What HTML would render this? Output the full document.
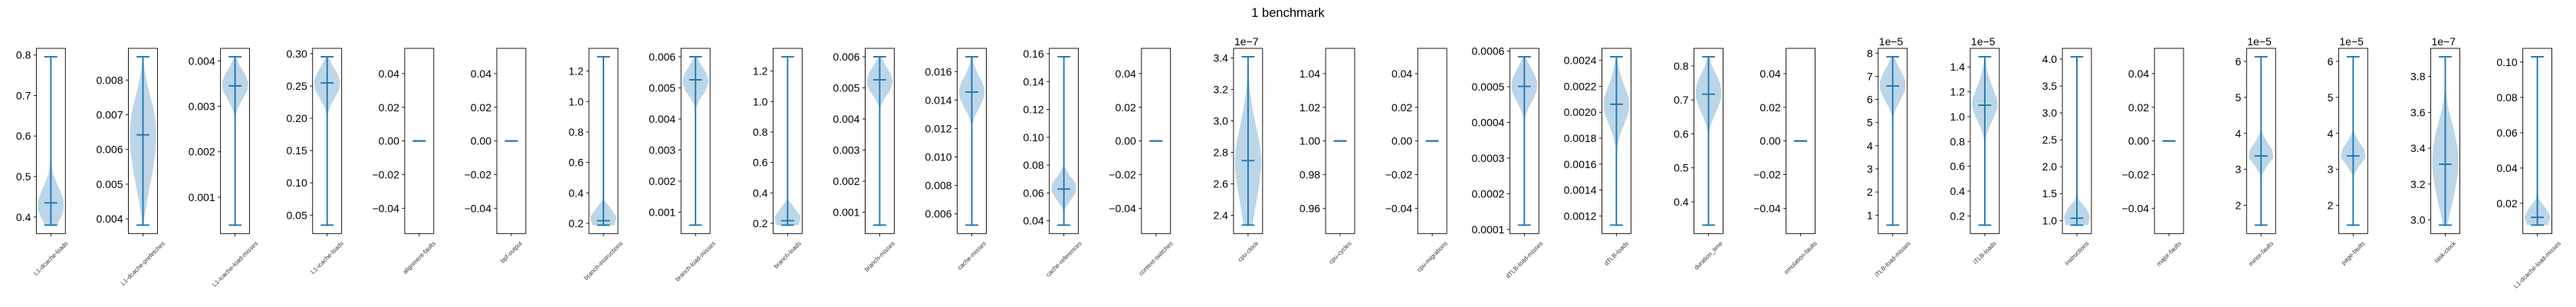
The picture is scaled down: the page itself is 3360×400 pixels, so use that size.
<!DOCTYPE html>
<html><head><meta charset="utf-8"><title>1 benchmark</title>
<style>
html,body{margin:0;padding:0;background:#fff;}
svg{display:block;font-family:"Liberation Sans","DejaVu Sans",sans-serif;}
</style></head>
<body>
<svg id="chart" width="3360" height="400" viewBox="0 0 3360 400" xmlns="http://www.w3.org/2000/svg">
<rect width="3360" height="400" fill="#fff"/>
<text x="1680" y="22" text-anchor="middle" font-size="16.5" fill="#000">1 benchmark</text>
</svg>
<script>
const names=["L1-dcache-loads","L1-dcache-prefetches","L1-icache-load-misses","L1-icache-loads","alignment-faults","bpf-output","branch-instructions","branch-load-misses","branch-loads","branch-misses","cache-misses","cache-references","context-switches","cpu-clock","cpu-cycles","cpu-migrations","dTLB-load-misses","dTLB-loads","duration_time","emulation-faults","iTLB-load-misses","iTLB-loads","instructions","major-faults","minor-faults","page-faults","task-clock","L1-dcache-load-misses"];
const mins=[0.380,0.00382,0.000386,0.0345,0,0,0.188,0.000588,0.188,0.000588,0.00521,0.0369,0,2.338,1,0,0.000112,0.001129,0.3314,0,0.568,0.1257,0.914,0,1.451,1.451,2.971,0.00767];
const maxs=[0.7956,0.00867,0.00409,0.2952,0,0,1.294,0.006,1.294,0.006,0.01704,0.1578,0,3.408,1,0,0.000584,0.002428,0.827,0,7.844,1.482,4.043,0,6.128,6.128,3.910,0.103];
const centers=[0.435,0.00642,0.00345,0.2548,0,0,0.217,0.00526,0.217,0.00526,0.01456,0.0628,0,2.748,1,0,0.000501,0.002062,0.717,0,6.58,1.092,1.043,0,3.374,3.374,3.311,0.0121];
const offsetLabels=["","","","","","","","","","","","","","1e−7","","","","","","","1e−5","1e−5","","","1e−5","1e−5","1e−7",""];
const zeroTicks=["−0.04","−0.02","0.00","0.02","0.04"];
const tickLabels=[
["0.4","0.5","0.6","0.7","0.8"],
["0.004","0.005","0.006","0.007","0.008"],
["0.001","0.002","0.003","0.004"],
["0.05","0.10","0.15","0.20","0.25","0.30"],
zeroTicks,zeroTicks,
["0.2","0.4","0.6","0.8","1.0","1.2"],
["0.001","0.002","0.003","0.004","0.005","0.006"],
["0.2","0.4","0.6","0.8","1.0","1.2"],
["0.001","0.002","0.003","0.004","0.005","0.006"],
["0.006","0.008","0.010","0.012","0.014","0.016"],
["0.04","0.06","0.08","0.10","0.12","0.14","0.16"],
zeroTicks,
["2.4","2.6","2.8","3.0","3.2","3.4"],
["0.96","0.98","1.00","1.02","1.04"],
zeroTicks,
["0.0001","0.0002","0.0003","0.0004","0.0005","0.0006"],
["0.0012","0.0014","0.0016","0.0018","0.0020","0.0022","0.0024"],
["0.4","0.5","0.6","0.7","0.8"],
zeroTicks,
["1","2","3","4","5","6","7","8"],
["0.2","0.4","0.6","0.8","1.0","1.2","1.4"],
["1.0","1.5","2.0","2.5","3.0","3.5","4.0"],
zeroTicks,
["2","3","4","5","6"],
["2","3","4","5","6"],
["3.0","3.2","3.4","3.6","3.8"],
["0.02","0.04","0.06","0.08","0.10"]
];
const Z=n=>Array(n).fill(0);
const densities=[
[0.45,0.8,1,0.95,0.75,0.45,0.2,0.07,...Z(13)],
[0.05,0.12,0.22,0.33,0.45,0.57,0.7,0.8,0.9,0.97,1,1,0.97,0.9,0.78,0.62,0.45,0.3,0.17,0.08,0.02],
[...Z(12),0,0.05,0.25,0.6,0.95,1,0.75,0.35,0.05],
[...Z(13),0.03,0.2,0.55,0.9,1,0.8,0.4,0.1],
[],[],
[0.85,1,0.55,0.05,...Z(17)],
[...Z(14),0.05,0.35,0.8,1,0.85,0.45,0.1],
[0.85,1,0.55,0.05,...Z(17)],
[...Z(14),0.05,0.35,0.8,1,0.85,0.45,0.1],
[...Z(12),0.05,0.25,0.6,0.9,1,0.8,0.45,0.2,0.05],
[0,0,0.1,0.55,0.95,0.9,0.4,0.05,...Z(13)],
[],
[0.35,0.45,0.55,0.66,0.77,0.87,0.95,1,1,0.95,0.85,0.72,0.58,0.45,0.33,0.23,0.15,0.09,0.05,0.03,0.01],
[],[],
[...Z(13),0.1,0.35,0.7,0.95,1,0.75,0.4,0.1],
[...Z(9),0.03,0.15,0.35,0.6,0.85,1,0.95,0.75,0.5,0.3,0.15,0.05],
[...Z(11),0.05,0.2,0.45,0.75,0.95,1,0.85,0.55,0.25,0.08],
[],
[...Z(13),0.05,0.3,0.65,0.95,1,0.75,0.4,0.1],
[...Z(10),0.02,0.2,0.45,0.75,0.97,0.95,0.7,0.45,0.25,0.1,0.02],
[0.85,1,0.7,0.15,...Z(17)],
[],
[...Z(6),0.08,0.45,0.95,0.85,0.4,0.08,...Z(9)],
[...Z(6),0.08,0.45,0.95,0.85,0.4,0.08,...Z(9)],
[0.15,0.3,0.45,0.6,0.73,0.85,0.95,1,1,0.95,0.85,0.72,0.55,0.38,0.22,0.12,0.06,0.03,0.02,0.01,0.005],
[0.8,1,0.65,0.15,...Z(17)]
];

const NS="http://www.w3.org/2000/svg";
const svg=document.getElementById('chart');
const BLUE="#1f77b4";
const TOP=63, H=241.3, W=37.9, X0=47.4, DX=120.12, HALF=17, BAR=8.4, LW=1.9;
function mk(tag,attrs,parent){const e=document.createElementNS(NS,tag);for(const k in attrs)e.setAttribute(k,attrs[k]);(parent||svg).appendChild(e);return e;}
function yScale(lo,hi){return v=>TOP+(hi-v)/(hi-lo)*H;}

names.forEach((nm,i)=>{
  const g=mk('g',{});
  
  
  const left=X0+DX*i, cx=left+W/2;
  const mn=mins[i], mx=maxs[i];
  let lo,hi;
  if(mx===mn){lo=mn-0.055;hi=mn+0.055;}else{const r=mx-mn;lo=mn-0.05*r;hi=mx+0.05*r;}
  const y=yScale(lo,hi);
  const d=densities[i];
  if(d.length&&mx>mn){
    const n=d.length;let pr=[],pl=[];
    for(let k=0;k<n;k++){const v=mn+(mx-mn)*k/(n-1);const yy=y(v);pr.push((cx+d[k]*HALF).toFixed(2)+','+yy.toFixed(2));pl.unshift((cx-d[k]*HALF).toFixed(2)+','+yy.toFixed(2));}
    const body=mk('polygon',{points:pr.concat(pl).join(' '),fill:'#bcd6e8',stroke:'none'},g);
    
    
  }
  const vline=mk('line',{x1:cx,x2:cx,y1:y(mn),y2:y(mx),stroke:BLUE,'stroke-width':LW},g);
  
  
  [[mx,'max-bar'],[mn,'min-bar'],[centers[i],'median-bar']].forEach(([v,n])=>{
    const l=mk('line',{x1:cx-BAR,x2:cx+BAR,y1:y(v),y2:y(v),stroke:BLUE,'stroke-width':LW},g);
    
    
  });
  const fr=mk('rect',{x:left,y:TOP,width:W,height:H,fill:'none',stroke:'#000','stroke-width':0.9},g);
  
  
  tickLabels[i].forEach(t=>{
    const v=parseFloat(t.replace('−','-'));const yy=y(v);
    const tk=mk('line',{x1:left-3.5,x2:left,y1:yy,y2:yy,stroke:'#000','stroke-width':0.9},g);
    
    
    const tx=mk('text',{x:left-7,y:yy+5,'text-anchor':'end','font-size':14,fill:'#000'},g);
    tx.textContent=t;
    
    
  });
  if(offsetLabels[i]){
    const o=mk('text',{x:left+1,y:59,'font-size':14,fill:'#000'},g);
    o.textContent=offsetLabels[i];
    
    
  }
  const xt=mk('line',{x1:cx,x2:cx,y1:TOP+H,y2:TOP+H+3.5,stroke:'#000','stroke-width':0.9},g);
  
  
  const xl=mk('text',{'text-anchor':'middle','dominant-baseline':'central','font-size':8,fill:'#333'},g);
  xl.textContent=nm;
  
  
  let L=nm.length*4;try{L=xl.getComputedTextLength()||L;}catch(e){}
  const bb=(L+8)*0.7071;
  const cy=313+bb/2;
  xl.setAttribute('transform','translate('+cx.toFixed(2)+','+cy.toFixed(2)+') rotate(-45)');
});
</script>
</body></html>
